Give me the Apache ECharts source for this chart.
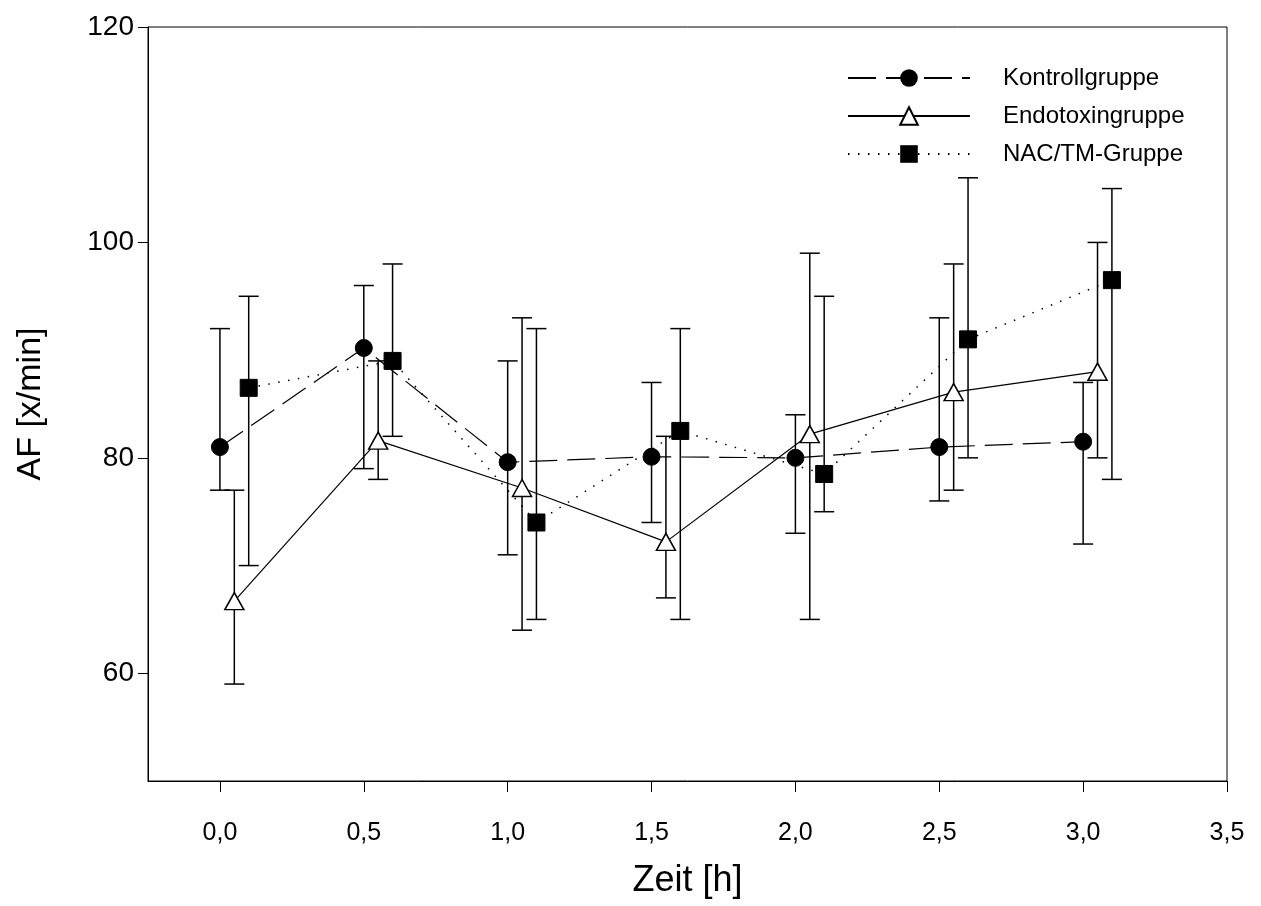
<!DOCTYPE html>
<html>
<head>
<meta charset="utf-8">
<title>AF [x/min]</title>
<script src="https://cdn.jsdelivr.net/npm/echarts@6.0.0/dist/echarts.min.js"></script>
<style>
html,body{margin:0;padding:0;background:#fff;}
#chart{width:1261px;height:906px;}
</style>
</head>
<body>
<div id="chart"></div>
<script>
/********
 *  AF ueber die Zeit, drei Gruppen mit Fehlerbalken
 */
var xTicks=[0,0.5,1,1.5,2,2.5,3,3.5];
var yTicks=[60,80,100,120];

// Kontrollgruppe
var kontrollX=[0,0.5,1,1.5,2,2.5,3];
var kontrollMean=[81,90.2,79.6,80.1,80,81,81.5];
var kontrollHigh=[92,96,89,87,84,93,87];
var kontrollLow=[77,79,71,74,73,76,72];

// Endotoxingruppe
var endoX=[0.05,0.55,1.05,1.55,2.05,2.55,3.05];
var endoMean=[66.7,81.6,77.2,72.2,82.2,86.1,88];
var endoHigh=[77,89,93,82,99,98,100];
var endoLow=[59,78,64,67,65,77,80];

// NAC/TM-Gruppe
var nacX=[0.1,0.6,1.1,1.6,2.1,2.6,3.1];
var nacMean=[86.5,89,74,82.5,78.5,91,96.5];
var nacHigh=[95,98,92,92,95,106,105];
var nacLow=[70,82,65,65,75,80,78];

var fontName='"Liberation Sans", Arial, sans-serif';

window.onload=function(){
	initChart();
};

/****
 * x/y Paare bauen
 */
function pairs(xs,ys){
	var out=[];
	for(var i=0;i<xs.length;i++){
		out.push([xs[i],ys[i]]);
	}
	return out;
}

/****
 * [x, unten, oben] fuer die Fehlerbalken
 */
function errRows(xs,lo,hi){
	var out=[];
	for(var i=0;i<xs.length;i++){
		out.push([xs[i],lo[i],hi[i]]);
	}
	return out;
}

/****
 * Fehlerbalken mit Kappen zeichnen
 */
function renderErrorBar(params,api){
	var x=api.value(0);
	var lo=api.coord([x,api.value(1)]);
	var hi=api.coord([x,api.value(2)]);
	var half=10;
	var style={stroke:'#000',lineWidth:1.5,fill:null};
	return {
		type:'group',
		children:[
			{type:'line',shape:{x1:hi[0],y1:hi[1],x2:lo[0],y2:lo[1]},style:style},
			{type:'line',shape:{x1:hi[0]-half,y1:hi[1],x2:hi[0]+half,y2:hi[1]},style:style},
			{type:'line',shape:{x1:lo[0]-half,y1:lo[1],x2:lo[0]+half,y2:lo[1]},style:style}
		]
	};
}

function errSeries(name,rows){
	return {
		name:name,
		type:'custom',
		renderItem:renderErrorBar,
		encode:{x:0,y:[1,2]},
		data:rows,
		z:1,
		silent:true
	};
}

/****
 * Diagramm initialisieren
 */
function initChart(){
	var chart=echarts.init(document.getElementById('chart'),null,{renderer:'canvas'});
	var option={
		animation:false,
		backgroundColor:'#fff',
		grid:{
			left:148,
			right:34,
			top:27,
			bottom:125,
			show:true,
			borderColor:'#000',
			borderWidth:1
		},
		legend:{
			orient:'vertical',
			left:842,
			top:61,
			itemWidth:122,
			itemHeight:22,
			itemGap:14,
			data:['Kontrollgruppe','Endotoxingruppe','NAC/TM-Gruppe'],
			textStyle:{fontFamily:fontName,fontSize:24,color:'#000',padding:[0,0,0,28]}
		},
		xAxis:{
			type:'value',
			min:-0.25,
			max:3.5,
			name:'Zeit [h]',
			nameLocation:'middle',
			nameGap:82,
			nameTextStyle:{fontFamily:fontName,fontSize:36,color:'#000'},
			splitLine:{show:false},
			axisLine:{show:true,onZero:false,lineStyle:{color:'#000',width:1}},
			axisTick:{show:true,length:11,customValues:xTicks,lineStyle:{color:'#000'}},
			axisLabel:{
				customValues:xTicks,
				margin:40,
				fontFamily:fontName,
				fontSize:25,
				color:'#000',
				formatter:function(v){return v.toFixed(1).replace('.',',');}
			}
		},
		yAxis:{
			type:'value',
			min:50,
			max:120,
			name:'AF [x/min]',
			nameLocation:'middle',
			nameGap:100,
			nameTextStyle:{fontFamily:fontName,fontSize:34,color:'#000'},
			splitLine:{show:false},
			axisLine:{show:true,onZero:false,lineStyle:{color:'#000',width:1}},
			axisTick:{show:true,length:10,customValues:yTicks,lineStyle:{color:'#000'}},
			axisLabel:{
				customValues:yTicks,
				margin:14,
				fontFamily:fontName,
				fontSize:28,
				color:'#000'
			}
		},
		series:[
			errSeries('errKontroll',errRows(kontrollX,kontrollLow,kontrollHigh)),
			errSeries('errEndo',errRows(endoX,endoLow,endoHigh)),
			errSeries('errNac',errRows(nacX,nacLow,nacHigh)),
			{
				name:'Kontrollgruppe',
				type:'line',
				data:pairs(kontrollX,kontrollMean),
				symbol:'circle',
				symbolSize:17,
				z:3,
				itemStyle:{color:'#000',borderColor:'#000'},
				lineStyle:{color:'#000',width:1.2,type:[28,10]}
			},
			{
				name:'Endotoxingruppe',
				type:'line',
				data:pairs(endoX,endoMean),
				symbol:'triangle',
				symbolSize:[19,17],
				showAllSymbol:true,
				z:3,
				itemStyle:{color:'#fff',borderColor:'#000',borderWidth:1.5},
				lineStyle:{color:'#000',width:1.2,type:'solid'}
			},
			{
				name:'NAC/TM-Gruppe',
				type:'line',
				data:pairs(nacX,nacMean),
				symbol:'rect',
				symbolSize:17,
				z:3,
				itemStyle:{color:'#000',borderColor:'#000'},
				lineStyle:{color:'#000',width:1.5,type:[1.5,8.5]}
			}
		]
	};
	chart.setOption(option);
}
</script>
</body>
</html>
